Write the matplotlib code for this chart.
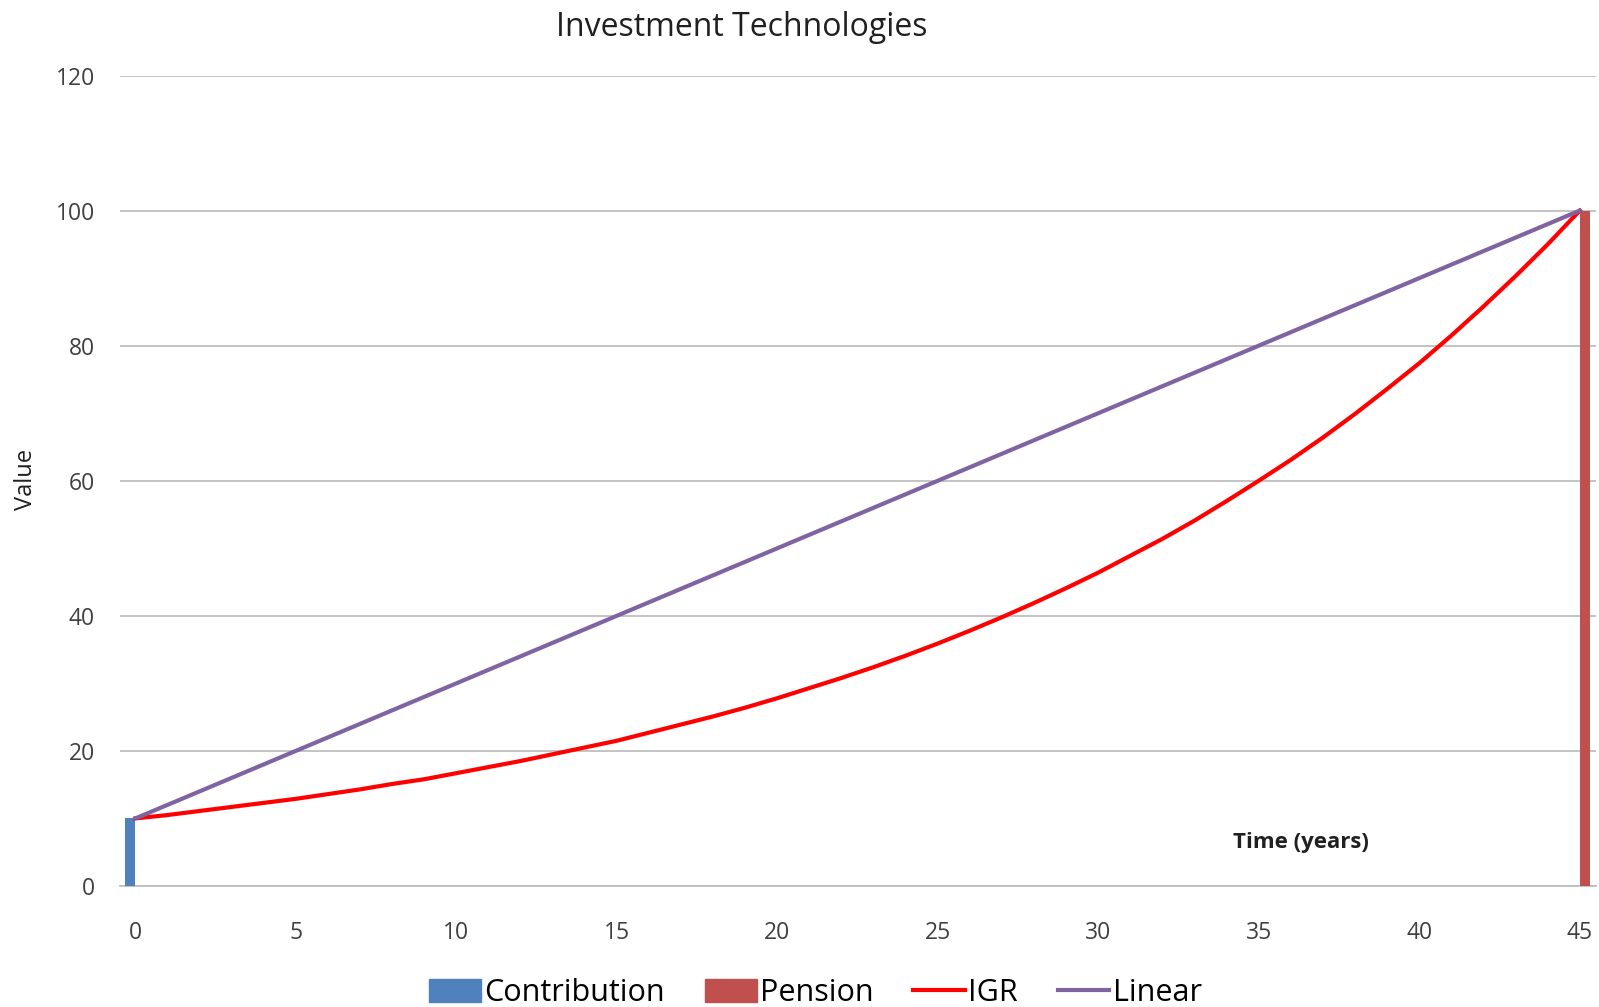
import numpy as np
import matplotlib.pyplot as plt
from matplotlib.patches import Patch
from matplotlib.lines import Line2D

plt.rcParams['font.family'] = ['Open Sans', 'DejaVu Sans']

years = np.arange(0, 46)
igr = [10.0, 10.5, 11.1, 11.7, 12.3, 12.9, 13.6, 14.3, 15.1, 15.8,
       16.7, 17.6, 18.5, 19.5, 20.5, 21.5, 22.7, 23.9, 25.1, 26.4,
       27.8, 29.3, 30.8, 32.4, 34.1, 35.9, 37.8, 39.8, 41.9, 44.1,
       46.4, 48.9, 51.4, 54.1, 57.0, 60.0, 63.1, 66.4, 69.9, 73.6,
       77.4, 81.5, 85.8, 90.3, 95.0, 100.0]
linear = [10 + 2 * y for y in years]

contribution_x, contribution = [0], [10]
pension_x, pension = [45], [100]

bar_w = 0.33
blue, brick = '#4F81BD', '#C0504D'
red, purple = '#FF0000', '#8064A2'

fig = plt.figure(figsize=(15.99, 10.07), dpi=100)
ax = fig.add_axes([0.075, 0.1202, 0.923, 0.8048])

ax.bar(contribution_x, contribution, width=-bar_w, align='edge', color=blue, zorder=3)
ax.bar(pension_x, pension, width=bar_w, align='edge', color=brick, zorder=3)
ax.plot(years, igr, color=red, lw=3, zorder=4)
ax.plot(years, linear, color=purple, lw=3, zorder=4)

ax.set_xlim(-0.48, 45.5)
ax.set_ylim(0, 120)
ax.set_xticks(range(0, 46, 5))
ax.set_yticks(range(0, 121, 20))
ax.grid(axis='y', color='#BEBEBE', lw=1.3, zorder=0)
for s in ['top', 'right', 'left']:
    ax.spines[s].set_visible(False)
ax.spines['bottom'].set_color('#BEBEBE')
ax.spines['bottom'].set_linewidth(1.3)
ax.tick_params(length=0, labelsize=16.5, colors='#404040')
ax.tick_params(axis='x', pad=25)
ax.tick_params(axis='y', pad=18)

fig.text(0.016, 0.524, 'Value', fontsize=17, rotation=90,
         ha='center', va='center', color='#202020')
ax.text(36.3, 6.4, 'Time (years)', fontsize=16, fontweight='bold',
        ha='center', va='center', color='#202020')
fig.text(0.464, 0.973, 'Investment Technologies', fontsize=23,
         ha='center', va='center', color='#202020')

handles = [Patch(color=blue), Patch(color=brick),
           Line2D([], [], color=red, lw=3), Line2D([], [], color=purple, lw=3)]
fig.legend(handles, ['Contribution', 'Pension', 'IGR', 'Linear'],
           loc='center', bbox_to_anchor=(0.51, 0.014), ncol=4, frameon=False,
           fontsize=22, handlelength=1.7, handletextpad=0.1, columnspacing=1.3,
           handleheight=0.8)

fig.savefig('out.png', dpi=100)
